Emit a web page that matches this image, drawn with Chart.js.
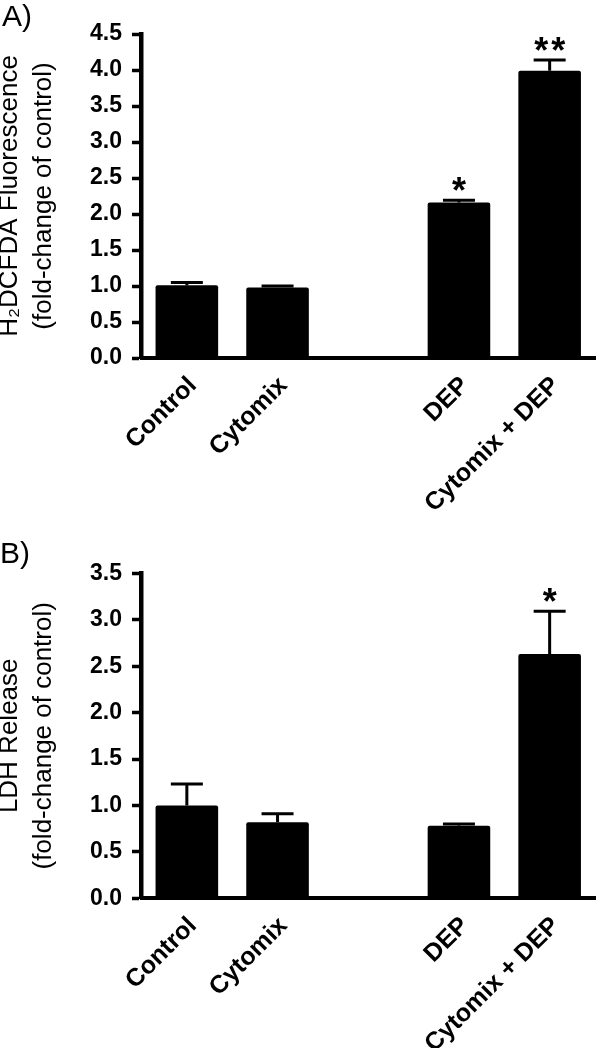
<!DOCTYPE html>
<html>
<head>
<meta charset="utf-8">
<script src="https://cdn.jsdelivr.net/npm/chart.js@4/dist/chart.umd.min.js"></script>
<style>
  html, body { margin: 0; padding: 0; background: #fff; }
  #wrap { position: relative; width: 600px; height: 1048px; overflow: hidden; }
  canvas { position: absolute; left: 0; display: block; }
  .panel { position: absolute; font-family: 'Liberation Sans', Arial, sans-serif; font-size: 30px; line-height: 1; color: #000; }
</style>
</head>
<body>
<div id="wrap">
  <canvas id="cA" width="600" height="520" style="top:0px"></canvas>
  <canvas id="cB" width="600" height="528" style="top:520px"></canvas>
  <div class="panel" style="left:2px; top:1px;">A)</div>
  <div class="panel" style="left:0px; top:538px;">B)</div>
</div>
<script>
// ---- data ----
const categories = ['Control', 'Cytomix', '', 'DEP', 'Cytomix + DEP'];

const ros_values = [1.01, 0.98, null, 2.16, 3.99];
const ros_errors = [0.04, 0.02, null, 0.03, 0.15];
const ros_stars  = ['', '', '', '*', '**'];
const ros_ticks  = [0, 0.5, 1.0, 1.5, 2.0, 2.5, 3.0, 3.5, 4.0, 4.5];
const ros_title  = ['H\u2082DCFDA Fluorescence', '(fold-change of control)'];

const ldh_values = [1.00, 0.82, null, 0.78, 2.63];
const ldh_errors = [0.23, 0.09, null, 0.02, 0.46];
const ldh_stars  = ['', '', '', '', '*'];
const ldh_ticks  = [0, 0.5, 1.0, 1.5, 2.0, 2.5, 3.0, 3.5];
const ldh_title  = ['LDH Release', '(fold-change of control)'];

Chart.defaults.font.family = "'Liberation Sans', Arial, Helvetica, sans-serif";
Chart.defaults.color = '#000';

const errorPlugin = {
  id: 'errbars',
  afterDatasetsDraw(chart, args, opts) {
    const ctx = chart.ctx;
    const yScale = chart.scales.y;
    const meta = chart.getDatasetMeta(0);
    const vals = chart.data.datasets[0].data;
    const errs = opts.errors;
    const stars = opts.stars;
    ctx.save();
    ctx.strokeStyle = '#000';
    ctx.fillStyle = '#000';
    ctx.lineWidth = 3;
    meta.data.forEach((el, i) => {
      if (vals[i] == null) return;
      const x = el.x;
      const yTop = yScale.getPixelForValue(vals[i] + errs[i]);
      ctx.beginPath();
      ctx.moveTo(x, el.y);
      ctx.lineTo(x, yTop);
      ctx.moveTo(x - 16, yTop);
      ctx.lineTo(x + 16, yTop);
      ctx.stroke();
      const s = stars[i];
      if (s) {
        ctx.font = "bold 36px 'Liberation Sans', Arial, sans-serif";
        ctx.textAlign = 'center';
        ctx.textBaseline = 'alphabetic';
        const m = ctx.measureText('*');
        const cy = yTop - 16;
        const base = cy + (m.actualBoundingBoxAscent - m.actualBoundingBoxDescent) / 2;
        const n = s.length;
        for (let k = 0; k < n; k++) {
          const cx = x + (k - (n - 1) / 2) * 17;
          ctx.fillText('*', cx, base);
        }
      }
    });
    ctx.restore();
  }
};

function makeChart(id, values, errors, stars, ticks, title, top, axisBottom, canvasH) {
  const yMax = ticks[ticks.length - 1];
  return new Chart(document.getElementById(id), {
    type: 'bar',
    data: {
      labels: categories,
      datasets: [{
        data: values,
        backgroundColor: '#000',
        borderWidth: 0,
        borderRadius: 2,
        borderSkipped: 'bottom',
        categoryPercentage: 1.0,
        barPercentage: 0.69
      }]
    },
    options: {
      responsive: false,
      animation: false,
      events: [],
      layout: { padding: { left: 0, right: 5, top: top, bottom: 0 } },
      plugins: {
        legend: { display: false },
        tooltip: { enabled: false },
        errbars: { errors: errors, stars: stars }
      },
      scales: {
        x: {
          grid: { display: false },
          border: { display: true, color: '#000', width: 4 },
          ticks: {
            autoSkip: false,
            maxRotation: 45,
            minRotation: 45,
            padding: 5,
            labelOffset: 6,
            color: '#000',
            font: { size: 25, weight: 'bold' }
          },
          afterFit(axis) { axis.height = canvasH - axisBottom; }
        },
        y: {
          min: 0,
          max: yMax,
          afterBuildTicks(axis) { axis.ticks = ticks.map(v => ({ value: v })); },
          grid: {
            display: true,
            drawOnChartArea: false,
            drawTicks: true,
            tickLength: 9.5,
            tickWidth: 3.5,
            tickColor: '#000'
          },
          border: { display: true, color: '#000', width: 4.5 },
          ticks: {
            padding: 10,
            color: '#000',
            font: { size: 23, weight: 'bold' },
            callback: (v) => Number(v).toFixed(1)
          },
          title: {
            display: true,
            text: title,
            color: '#000',
            font: { size: 26, weight: 'normal', lineHeight: 1.31 },
            padding: { top: -7, bottom: 0 }
          },
          afterFit(axis) { axis.width = 141.5; }
        }
      }
    },
    plugins: [errorPlugin]
  });
}

makeChart('cA', ros_values, ros_errors, ros_stars, ros_ticks, ros_title, 34, 358, 520);
makeChart('cB', ldh_values, ldh_errors, ldh_stars, ldh_ticks, ldh_title, 53.3, 378.3, 528);
</script>
</body>
</html>
